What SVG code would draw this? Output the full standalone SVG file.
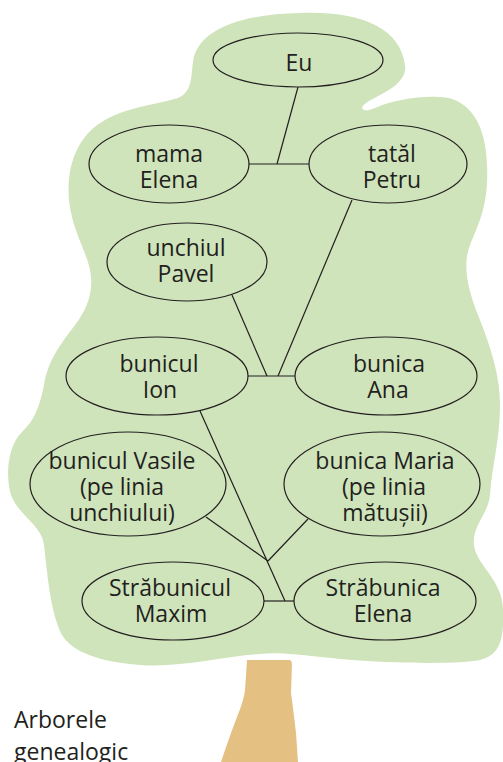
<svg xmlns="http://www.w3.org/2000/svg" width="503" height="762" viewBox="0 0 503 762">
<style>
.node ellipse{fill:#cfe4bb;stroke:#231f20;stroke-width:1.2}
.node text,.title{font-family:"Open Sans","Noto Sans",sans-serif;font-size:23px;fill:#231f20}
.node text{text-anchor:middle}
#connectors line{stroke:#231f20;stroke-width:1.2}
</style>
<rect width="503" height="762" fill="#ffffff"/>
<g id="tree">
<path id="trunk" d="M247 660 L290 660 Q292 661 292 664 L291 693 Q294 715 296 733 L298 762 L221 762 Q230 735 237 717 Q244 700 245 690 Z" fill="#e4c182"/>
<path id="crown" fill="#cfe4bb" d="M300 13 C362 11,400 28,405 65 C408 85,378 95,366 103 C358 109,363 113,375 108 C395 100,415 96,440 97 C470 98,486 125,487 165 C489 205,478 225,470 245 C462 265,468 290,478 315 C490 345,500 375,500 405 C500 440,492 465,490 495 C488 515,472 525,474 545 C476 565,503 580,503 610 C504 640,500 655,480 660 C460 664,400 664,340 659 C300 655,280 652,260 654 C220 657,180 668,140 665 C100 662,72 652,62 635 C50 612,47 570,44 545 C42 525,18 515,11 495 C5 475,8 445,22 432 C35 420,40 405,44 385 C48 360,60 345,75 325 C88 308,94 290,90 270 C86 250,72 230,69 200 C66 165,78 135,105 120 C130 106,160 104,178 98 C192 92,191 78,193 62 C197 30,240 14,300 13 Z"/>
</g>
<g id="connectors">
<line x1="298" y1="87" x2="277" y2="164"/>
<line x1="248" y1="164" x2="309" y2="164"/>
<line x1="352" y1="200" x2="278" y2="376"/>
<line x1="232" y1="295" x2="267" y2="376"/>
<line x1="248" y1="376" x2="295" y2="376"/>
<line x1="200" y1="411" x2="285" y2="601"/>
<line x1="206" y1="517" x2="268" y2="561"/>
<line x1="308" y1="519" x2="268" y2="561"/>
<line x1="264" y1="601" x2="294" y2="601"/>
</g>
<g id="eu" class="node"><ellipse cx="298" cy="60" rx="85" ry="27"/><text x="299" y="71">Eu</text></g>
<g id="mama" class="node"><ellipse cx="169" cy="164" rx="80" ry="39"/><text x="169" y="162">mama</text><text x="169" y="188">Elena</text></g>
<g id="tata" class="node"><ellipse cx="388" cy="164" rx="79" ry="39"/><text x="392" y="162">tatăl</text><text x="392" y="188">Petru</text></g>
<g id="unchiul" class="node"><ellipse cx="187" cy="262" rx="80" ry="39"/><text x="186" y="256">unchiul</text><text x="186" y="282">Pavel</text></g>
<g id="bunicul-ion" class="node"><ellipse cx="157" cy="376" rx="91" ry="39"/><text x="159" y="372">bunicul</text><text x="160" y="398">Ion</text></g>
<g id="bunica-ana" class="node"><ellipse cx="386" cy="376" rx="91" ry="39"/><text x="389" y="372">bunica</text><text x="388" y="398">Ana</text></g>
<g id="bunicul-vasile" class="node"><ellipse cx="128" cy="484" rx="98" ry="52"/><text x="122" y="469">bunicul Vasile</text><text x="122" y="495">(pe linia</text><text x="122" y="521">unchiului)</text></g>
<g id="bunica-maria" class="node"><ellipse cx="382" cy="484" rx="98" ry="52"/><text x="385" y="469">bunica Maria</text><text x="384" y="495">(pe linia</text><text x="385" y="521">mătușii)</text></g>
<g id="strabunicul" class="node"><ellipse cx="173" cy="601" rx="91" ry="39"/><text x="170" y="596">Străbunicul</text><text x="171" y="622">Maxim</text></g>
<g id="strabunica" class="node"><ellipse cx="385" cy="601" rx="91" ry="39"/><text x="383" y="596">Străbunica</text><text x="383" y="622">Elena</text></g>
<text class="title" x="14" y="728">Arborele</text>
<text class="title" x="14" y="760">genealogic</text>
</svg>
